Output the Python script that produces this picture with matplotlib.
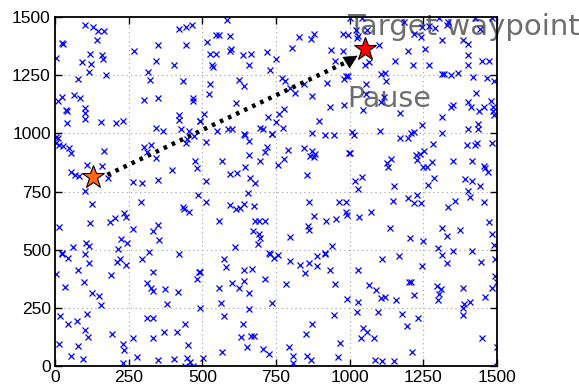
import matplotlib
matplotlib.use("Agg")
import matplotlib.pyplot as plt

# Random waypoint nodes
nodes = [
    (101,1464),(130,1459),(147,1439),(166,1439),(23,1389),(28,1382),(144,1399),(5,1323),(119,1339),(161,1335),
    (164,1320),(93,1306),(123,1296),(116,1263),(173,1252),(77,1232),(11,1141),(24,1156),(66,1163),(85,1154),
    (36,1101),(40,1094),(101,1110),(101,1088),(101,1060),(41,1044),(156,1048),(207,1044),(232,1055),
    (422,1449),(444,1457),(466,1464),(269,1352),(348,1378),(444,1378),(343,1310),(404,1295),(317,1263),(322,1229),
    (435,1223),(301,1144),(348,1151),(467,1151),(469,1137),(422,1077),(422,1058),(492,1055),(343,1022),(365,1012),
    (427,1017),(456,1011),
    (584,1485),(548,1424),(557,1424),(595,1418),(516,1392),(527,1339),(548,1339),(595,1356),(598,1363),(638,1335),
    (665,1342),(720,1348),(533,1292),(535,1285),(657,1292),(729,1273),(751,1318),(829,1414),(880,1428),(870,1406),
    (977,1428),(804,1368),(938,1360),(977,1356),(951,1310),(1000,1497),(527,1210),(524,1167),(626,1230),(641,1203),
    (615,1130),(507,1084),(493,1055),(550,1009),(587,1019),(601,1019),(697,1024),(706,1017),(722,1071),(643,998),
    (736,998),(770,1237),(779,1224),(799,1194),(813,1173),(872,1160),(846,1210),(923,1217),(980,1234),(988,1246),
    (759,1084),(778,1103),(751,1048),(774,1022),(895,1054),(934,1115),(982,1120),(872,1002),(917,994),(946,994),
    (1043,1497),(1020,1446),(1027,1418),(1024,1409),(1058,1446),(993,1424),(1098,1378),(1052,1292),(1065,1306),
    (1154,1313),(1214,1292),(1197,1356),(1255,1363),(1269,1292),(1185,1478),(1219,1425),(1242,1414),(1246,1457),
    (1269,1461),(1289,1452),(1303,1495),(1332,1467),(1335,1478),(1425,1495),(1484,1495),(1315,1403),(1386,1403),
    (1402,1385),(1400,1338),(1400,1292),(1450,1310),(1473,1313),(1442,1449),(995,1246),(1108,1256),(1120,1259),
    (1125,1223),(1054,1213),(1312,1253),(1320,1253),(1344,1252),(1369,1260),(1417,1242),(1465,1237),(1490,1227),
    (1046,1101),(1055,1170),(1108,1134),(1118,1156),(1171,1087),(1244,1034),(1208,1002),(1218,1005),(1103,1012),
    (1007,1005),(1312,1072),(1312,1002),(1344,1115),(1349,1120),(1428,1173),(1402,1134),(1412,1113),(1440,1095),
    (1457,1115),(1479,1137),(1485,1113),(1487,1094),(1491,1077),(1402,1017),(1436,1038),(1436,1017),
    (5,985),(11,978),(15,950),(26,947),(5,957),(49,935),(54,917),(167,924),(107,864),(161,859),
    (54,835),(68,821),(83,816),(181,809),(102,753),(124,696),(15,596),(119,613),(187,620),(204,637),
    (234,659),(241,639),(266,588),(291,703),(302,942),(326,950),(313,921),(342,896),(351,799),(266,792),
    (295,785),(348,608),(334,580),(354,541),(224,544),(245,530),(215,505),(104,527),(116,517),(62,510),
    (23,487),(319,491),(433,682),(439,674),(456,663),(486,735),(396,842),(475,882),(483,849),(444,957),
    (449,974),(473,988),
    (644,992),(736,997),(514,964),(657,967),(720,942),(714,921),(660,907),(567,882),(695,882),(646,856),
    (595,825),(618,831),(663,806),(680,785),(514,796),(791,928),(846,935),(872,925),(884,911),(867,902),
    (878,899),(778,889),(756,866),(855,821),(997,914),(654,742),(514,706),(595,692),(615,674),(629,677),
    (640,696),(674,689),(556,624),(678,623),(691,624),(714,623),(672,580),(691,567),(695,548),(689,524),
    (612,512),(727,487),(861,706),(878,644),(921,623),(954,631),(965,706),(988,706),(988,663),(991,649),
    (857,601),(861,584),(799,555),(939,514),(917,487),
    (1016,992),(1171,982),(1199,982),(1001,914),(1139,889),(1128,874),(1131,854),(1225,909),(1238,911),(1252,925),
    (1227,885),(1250,854),(1261,854),(1284,954),(1278,878),(1352,882),(1414,882),(1397,952),(1425,950),(1433,957),
    (1482,957),(1457,859),(1459,849),(1470,832),(1287,809),(1267,778),(1393,803),(1414,796),(1444,773),(1402,753),
    (1410,727),(1456,706),(1018,796),(1043,813),(1029,759),(1150,773),(1032,639),(1071,660),(1148,709),(1199,723),
    (1227,735),(1219,699),(1241,699),(1357,710),(1335,684),(1137,591),(1205,551),(1248,537),(1312,594),(1329,560),
    (1374,584),(1301,508),(1352,495),(1414,494),(1473,617),(1482,567),(1491,522),
    (25,482),(45,464),(102,482),(116,444),(221,461),(209,449),(241,436),(5,396),(77,411),(99,361),
    (35,339),(127,315),(150,299),(155,263),(191,389),(295,458),(422,482),(334,406),(313,358),(326,336),
    (331,322),(373,329),(418,318),(381,267),(481,372),(490,404),(492,250),(17,217),(45,181),(73,193),
    (107,224),(102,156),(113,124),(193,136),(232,93),(234,70),(230,14),(14,93),(79,85),(55,41),
    (96,31),(313,206),(334,206),(264,121),(331,121),(371,146),(413,146),(441,181),(452,91),(277,38),
    (351,27),(405,32),(449,35),(458,17),(441,0),(467,0),
    (729,482),(742,465),(756,475),(796,451),(830,432),(863,442),(889,471),(917,482),(889,429),(847,401),
    (934,411),(572,461),(582,425),(493,406),(640,411),(670,415),(601,358),(640,365),(712,373),(558,336),
    (623,336),(660,313),(565,272),(736,272),(657,243),(785,353),(951,353),(991,286),(575,214),(637,181),
    (631,124),(666,128),(674,131),(652,81),(706,74),(725,52),(567,62),(502,34),(946,220),(873,181),
    (852,136),(793,81),(968,98),(808,41),(808,14),(855,45),(870,24),(960,38),
    (1111,458),(1168,471),(1244,429),(1029,411),(1067,349),(1091,325),(1108,292),(1120,296),(1156,282),(1202,363),
    (1208,363),(1219,306),(1029,277),(1312,475),(1329,442),(1445,447),(1493,461),(1493,385),(1499,363),(1484,335),
    (1298,343),(1309,329),(1304,310),(1301,285),(1383,336),(1459,296),(1408,275),(1387,265),(1386,249),(1386,220),
    (1026,232),(1095,232),(1176,224),(1233,206),(1046,163),(1058,146),(1037,121),(1082,121),(1193,174),(1210,62),
    (1086,27),(1111,20),(1150,20),(1448,120),(1500,81),(1499,2),
]
node_x = [p[0] for p in nodes]
node_y = [p[1] for p in nodes]

start_xy = (130, 813)        # orange star (current position)
target_xy = (1052, 1363)     # red star (target waypoint)
path_x = [178, 1000]         # dotted movement segment
path_y = [822, 1313]
arrow_tip = (1027, 1334)

ticks = [0, 250, 500, 750, 1000, 1250, 1500]

fig = plt.figure(figsize=(5.79, 3.91), dpi=100)
ax = fig.add_axes([55/579, 1-366/391, (497-55)/579, (366-17)/391])

ax.text(991, 1423, 'Target waypoint', fontsize=21, color='#6e6e6e', family='DejaVu Sans',
        ha='left', va='baseline', clip_on=False, zorder=1)
ax.text(993, 1113, 'Pause', fontsize=20.5, color='#6e6e6e', family='DejaVu Sans',
        ha='left', va='baseline', zorder=1)

ax.plot(node_x, node_y, linestyle='none', marker='x', color='#0000ff',
        markersize=4, markeredgewidth=0.9, zorder=2)

ax.plot(path_x, path_y, linestyle=(0, (0.8, 1.2)), color='black', linewidth=3.2,
        zorder=3, solid_capstyle='butt')
ax.annotate('', xy=arrow_tip, xytext=(path_x[-1], path_y[-1]),
            arrowprops=dict(arrowstyle='-|>,head_length=0.9,head_width=0.45',
                            color='black', lw=0.5, shrinkA=0, shrinkB=0),
            zorder=3)

ax.plot([start_xy[0]], [start_xy[1]], marker='*', color='#ff6a13', markeredgecolor='black',
        markeredgewidth=0.8, markersize=17, linestyle='none', zorder=4)
ax.plot([target_xy[0]], [target_xy[1]], marker='*', color='#ff0000', markeredgecolor='black',
        markeredgewidth=0.8, markersize=17, linestyle='none', zorder=4)

ax.set_xlim(0, 1500)
ax.set_ylim(0, 1500)
ax.set_xticks(ticks)
ax.set_yticks(ticks)
ax.set_xticklabels([str(t) for t in ticks], family='Liberation Sans', fontsize=12.5)
ax.set_yticklabels([str(t) for t in ticks], family='Liberation Sans', fontsize=12.5)
ax.tick_params(direction='in', top=True, right=True, length=5, width=1, pad=3)
ax.grid(True, linestyle=(0, (1, 3)), color='#a0a0a0', linewidth=0.8)
for s in ax.spines.values():
    s.set_linewidth(1.3)
    s.set_color('black')

fig.savefig('out.png', dpi=100)
